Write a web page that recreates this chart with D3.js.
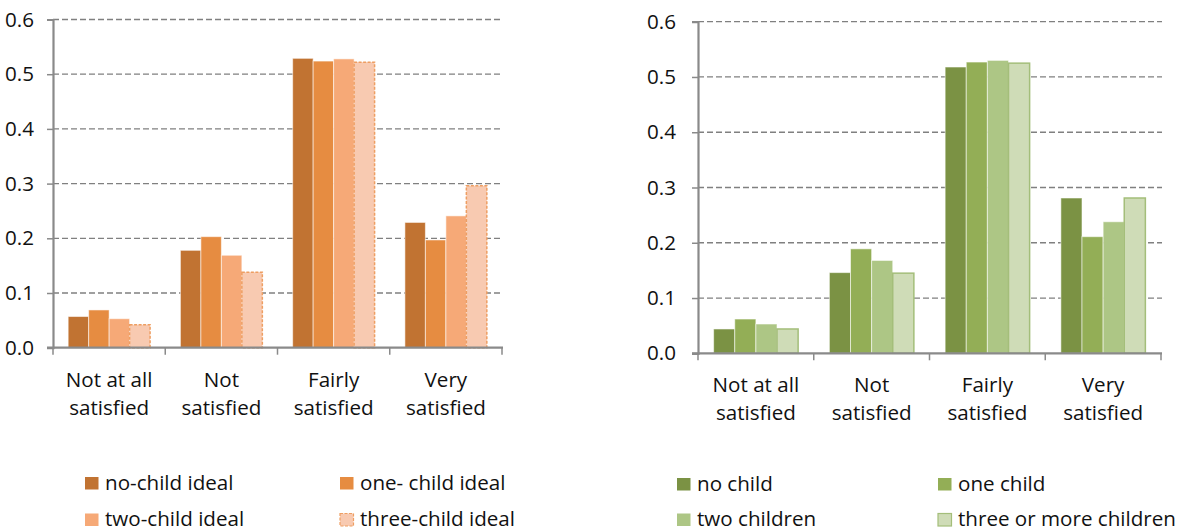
<!DOCTYPE html>
<html>
<head>
<meta charset="utf-8">
<script src="https://cdn.jsdelivr.net/npm/d3@7"></script>
<style>
  html, body { margin: 0; padding: 0; background: #fff; }
  svg { display: block; }
  text { font-family: "Open Sans", sans-serif; fill: #111; }
</style>
</head>
<body>
<svg id="chart" width="1189" height="532"></svg>
<script>
// Satisfaction categories shared by both panels
const categories = [["Not at all", "satisfied"], ["Not", "satisfied"], ["Fairly", "satisfied"], ["Very", "satisfied"]];
const yTicks = [0, 0.1, 0.2, 0.3, 0.4, 0.5, 0.6];
const yTickLabels = ["0.0", "0.1", "0.2", "0.3", "0.4", "0.5", "0.6"];

// Left panel: by ideal number of children
const idealSeries = ["no-child ideal", "one- child ideal", "two-child ideal", "three-child ideal"];
const idealNoChild = [0.057, 0.178, 0.529, 0.229];
const idealOneChild = [0.069, 0.203, 0.524, 0.197];
const idealTwoChild = [0.053, 0.169, 0.528, 0.241];
const idealThreeChild = [0.042, 0.138, 0.522, 0.296];

// Right panel: by actual number of children
const actualSeries = ["no child", "one child", "two children", "three or more children"];
const actualNoChild = [0.044, 0.146, 0.518, 0.281];
const actualOneChild = [0.062, 0.189, 0.527, 0.211];
const actualTwoChildren = [0.053, 0.168, 0.530, 0.238];
const actualThreePlus = [0.044, 0.145, 0.525, 0.281];

const svg = d3.select("#chart");
const FONT = "\"Open Sans\", sans-serif";
const FS = 20.6;

function drawPanel(cfg) {
  const g = svg.append("g");
  const values = cfg.values;

  const x0 = d3.scaleBand().domain(d3.range(categories.length)).range([cfg.left, cfg.right]).padding(0);
  const x1 = d3.scaleBand().domain(d3.range(cfg.series.length)).range([0, x0.step()]).paddingInner(0).paddingOuter(0.74);
  const y = d3.scaleLinear().domain([0, 0.6]).range([cfg.bottom, cfg.top]);

  // dashed gridlines
  g.append("g").selectAll("line").data(yTicks.filter(d => d > 0)).join("line")
    .attr("x1", cfg.left).attr("x2", cfg.right + 1)
    .attr("y1", d => y(d)).attr("y2", d => y(d))
    .attr("stroke", "#808080").attr("stroke-width", 1.3).attr("stroke-dasharray", "6,3");

  // y axis
  const yAxis = d3.axisLeft(y).tickValues(yTicks).tickFormat((d, i) => yTickLabels[i]).tickSize(6).tickPadding(cfg.yPad);
  const ya = g.append("g").attr("transform", `translate(${cfg.left},0)`).call(yAxis);
  ya.select(".domain").attr("stroke", "#8a8a8a").attr("stroke-width", 2.2);
  ya.selectAll(".tick line").attr("stroke", "#8a8a8a").attr("stroke-width", 1.5);
  ya.selectAll(".tick text").attr("font-size", FS).attr("font-family", FONT).attr("fill", "#111");

  // bars
  const groups = g.append("g").selectAll("g").data(categories).join("g")
    .attr("transform", (d, i) => `translate(${x0(i)},0)`);
  groups.selectAll("rect").data((d, ci) => values.map((s, si) => ({ si, v: s[ci] }))).join("rect")
    .attr("x", d => x1(d.si)).attr("width", x1.bandwidth())
    .attr("y", d => y(d.v)).attr("height", d => y(0) - y(d.v))
    .attr("fill", d => cfg.colors[d.si])
    .attr("stroke", d => d.si === 3 ? cfg.lastStroke : "rgba(255,255,255,0.55)")
    .attr("stroke-width", d => d.si === 3 ? 1.5 : 1)
    .attr("stroke-dasharray", d => d.si === 3 ? cfg.lastDash : null);

  // x axis with boundary ticks
  const xa = g.append("g").attr("transform", `translate(0,${cfg.bottom})`);
  xa.append("line").attr("x1", cfg.left - 6).attr("x2", cfg.right + 1).attr("y1", 0).attr("y2", 0)
    .attr("stroke", "#8a8a8a").attr("stroke-width", 2.2);
  const bounds = d3.range(categories.length + 1).map(i => i < categories.length ? x0(i) : cfg.right);
  xa.selectAll("line.tk").data(bounds).join("line").attr("class", "tk")
    .attr("x1", d => d).attr("x2", d => d).attr("y1", 0).attr("y2", 7)
    .attr("stroke", "#8a8a8a").attr("stroke-width", 1.5);

  // category labels (two lines)
  const lab = g.append("g").selectAll("text.cat").data(categories).join("text").attr("class", "cat")
    .attr("text-anchor", "middle").attr("font-size", FS)
    .attr("transform", (d, i) => `translate(${x0(i) + x0.bandwidth() / 2},0)`);
  lab.selectAll("tspan").data(d => d).join("tspan")
    .attr("x", 0).attr("y", (d, i) => cfg.labelY + i * 27.8).text(d => d);

  // legend, two columns by two rows
  const leg = g.append("g");
  const items = leg.selectAll("g").data(cfg.series).join("g")
    .attr("transform", (d, i) => `translate(${cfg.legX[i % 2]},${cfg.legY[Math.floor(i / 2)]})`);
  items.append("rect").attr("x", 0).attr("y", -12.5).attr("width", 13.5).attr("height", 12.5)
    .attr("fill", (d, i) => cfg.colors[i])
    .attr("stroke", (d, i) => i === 3 ? cfg.lastStroke : "none")
    .attr("stroke-width", 1.2)
    .attr("stroke-dasharray", (d, i) => i === 3 ? cfg.lastDash : null);
  items.append("text").attr("x", 20).attr("y", 0).attr("font-size", FS).text(d => d);
}

drawPanel({
  left: 53, right: 502, top: 19.5, bottom: 347.7, yPad: 13,
  series: idealSeries,
  values: [idealNoChild, idealOneChild, idealTwoChild, idealThreeChild],
  colors: ["#C17332", "#E68C41", "#F6A977", "#F8CAB1"],
  lastStroke: "#EE9E62", lastDash: "3,1.5",
  labelY: 387.3,
  legX: [85, 340], legY: [489.5, 526]
});

drawPanel({
  left: 698, right: 1161, top: 21.7, bottom: 353.3, yPad: 16,
  series: actualSeries,
  values: [actualNoChild, actualOneChild, actualTwoChildren, actualThreePlus],
  colors: ["#7B9244", "#93AE56", "#ADC685", "#CFDCB7"],
  lastStroke: "#A4BE7A", lastDash: null,
  labelY: 392.3,
  legX: [677, 938], legY: [490.5, 526]
});
</script>
</body>
</html>
